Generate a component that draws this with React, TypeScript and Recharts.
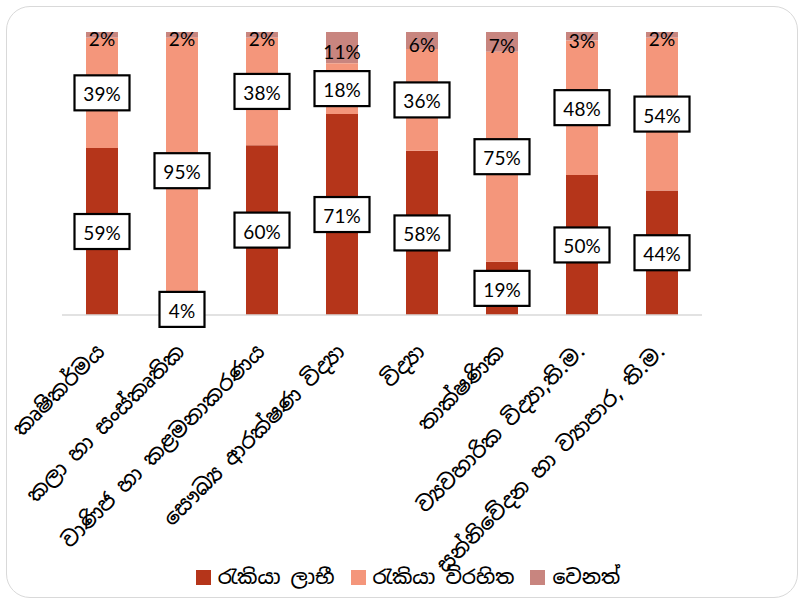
import { BarChart, Bar, XAxis, YAxis, Legend, LabelList } from 'recharts';

const categories = [
  'කෘෂිකර්මය',
  'කලා හා සංස්කෘතික',
  'වාණිජ හා කළමනාකරණය',
  'සෞඛ්‍ය ආරක්ෂණ විද්‍යා',
  'විද්‍යා',
  'තාක්ෂණික',
  'ව්‍යවහාරික විද්‍යා,ති.ම.',
  'සන්නිවේදන හා ව්‍යාපාර, ති.ම.',
];
const employed = [59, 4, 60, 71, 58, 19, 50, 44];
const unemployed = [39, 95, 38, 18, 36, 75, 48, 54];
const other = [2, 2, 2, 11, 6, 7, 3, 2];

const seriesNames = ['රැකියා ලාභී', 'රැකියා විරහිත', 'වෙනත්'];
const colors = ['#B5351A', '#F4967B', '#C8857F'];

const data = categories.map((name, i) => ({
  name,
  employed: employed[i],
  unemployed: unemployed[i],
  other: other[i],
}));

const labelFont = 'Lato, "Open Sans", sans-serif';
const sinhalaFont = '"Noto Sans Sinhala", "Noto Sans", sans-serif';

const BoxLabel = (props: any) => {
  const { x, y, width, height, value } = props;
  if (value == null) return null;
  const cx = x + width / 2;
  const cy = y + height / 2;
  const w = String(value).length * 10 + 15 + 20;
  const h = 35;
  return (
    <g>
      <rect x={cx - w / 2} y={cy - h / 2} width={w} height={h} fill="#fff" stroke="#000" strokeWidth={2.2} />
      <text x={cx} y={cy + 1} textAnchor="middle" dominantBaseline="central" fontSize={19} fontFamily={labelFont} fill="#000">
        {value}%
      </text>
    </g>
  );
};

const PlainLabel = (props: any) => {
  const { x, y, width, height, value } = props;
  if (value == null) return null;
  return (
    <text x={x + width / 2} y={y + height / 2 + 4} textAnchor="middle" dominantBaseline="central" fontSize={19} fontFamily={labelFont} fill="#000">
      {value}%
    </text>
  );
};

const CategoryTick = (props: any) => {
  const { x, y, payload } = props;
  const tx = x + 4;
  const ty = y + 38;
  return (
    <text x={tx} y={ty} transform={`rotate(-45, ${tx}, ${ty})`} textAnchor="end" fontSize={21} fontWeight={500} fontFamily={sinhalaFont} fill="#000">
      {payload.value}
    </text>
  );
};

const LegendContent = () => (
  <div style={{ display: 'flex', justifyContent: 'center', alignItems: 'center', gap: 16, height: 36, fontFamily: sinhalaFont, fontSize: 20, fontWeight: 500, paddingLeft: 18 }}>
    {seriesNames.map((n, i) => (
      <div key={n} style={{ display: 'flex', alignItems: 'center' }}>
        <span style={{ width: 15, height: 15, background: colors[i], marginRight: 7, display: 'inline-block' }} />
        <span>{n}</span>
      </div>
    ))}
  </div>
);

export default function App() {
  return (
    <div style={{ position: 'absolute', left: 0, top: 0, width: 798, height: 600, background: '#fff' }}>
      <div
        style={{
          position: 'absolute',
          left: 6,
          top: 6,
          width: 790,
          height: 590,
          border: '1.5px solid #d9d9d9',
          borderRadius: 24,
        }}
      />
      <div style={{ position: 'absolute', left: 0, top: 0 }}>
        <BarChart
          width={798}
          height={600}
          data={data}
          stackOffset="expand"
          barCategoryGap="30%"
          margin={{ top: 32, right: 96, left: 62, bottom: 5 }}
        >
          <XAxis
            dataKey="name"
            height={244}
            interval={0}
            tickLine={false}
            tickSize={0}
            tickMargin={0}
            axisLine={{ stroke: '#d9d9d9', strokeWidth: 1.5 }}
            tick={<CategoryTick />}
          />
          <YAxis hide domain={[0, 1]} />
          <Legend verticalAlign="bottom" content={<LegendContent />} wrapperStyle={{ left: 0, width: 798 }} />
          <Bar dataKey="employed" name={seriesNames[0]} stackId="a" fill={colors[0]} isAnimationActive={false}>
            <LabelList dataKey="employed" content={<BoxLabel />} />
          </Bar>
          <Bar dataKey="unemployed" name={seriesNames[1]} stackId="a" fill={colors[1]} isAnimationActive={false}>
            <LabelList dataKey="unemployed" content={<BoxLabel />} />
          </Bar>
          <Bar dataKey="other" name={seriesNames[2]} stackId="a" fill={colors[2]} isAnimationActive={false}>
            <LabelList dataKey="other" content={<PlainLabel />} />
          </Bar>
        </BarChart>
      </div>
    </div>
  );
}
